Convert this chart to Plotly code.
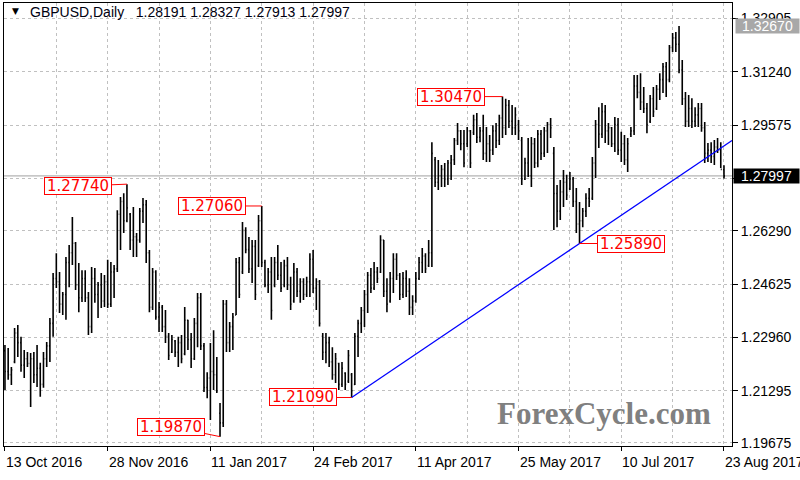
import plotly.graph_objects as go

# ---------------- data ----------------
bar_open = [1.2255,1.2190,1.2180,1.2220,1.2310,1.2280,1.2210,1.2230,1.2215,1.2230,
            1.2180,1.2200,1.2150,1.2230,1.2270,1.2340,1.2480,1.2470,1.2400,1.2430,
            1.2530,1.2560,1.2590,1.2460,1.2420,1.2480,1.2420,1.2330,1.2480,1.2430,
            1.2460,1.2410,1.2470,1.2400,1.2500,1.2510,1.2680,1.2720,1.2660,1.2680,
            1.2600,1.2610,1.2600,1.2690,1.2710,1.2560,1.2390,1.2500,1.2360,1.2390,
            1.2330,1.2300,1.2250,1.2285,1.2250,1.2280,1.2245,1.2350,1.2290,1.2230,
            1.2340,1.2420,1.2270,1.2140,1.2170,1.2190,1.2180,1.2060,1.2030,1.2400,
            1.2280,1.2330,1.2366,1.2530,1.2500,1.2630,1.2570,1.2510,1.2580,1.2520,
            1.2660,1.2530,1.2460,1.2500,1.2460,1.2530,1.2490,1.2460,1.2520,1.2460,
            1.2410,1.2500,1.2440,1.2470,1.2430,1.2470,1.2540,1.2450,1.2470,1.2300,
            1.2250,1.2280,1.2220,1.2180,1.2215,1.2150,1.2185,1.2160,1.2180,1.2150,
            1.2300,1.2340,1.2380,1.2430,1.2490,1.2450,1.2500,1.2500,1.2600,1.2440,
            1.2410,1.2480,1.2540,1.2490,1.2430,1.2480,1.2440,1.2390,1.2410,1.2480,
            1.2530,1.2550,1.2520,1.2560,1.2850,1.2780,1.2800,1.2820,1.2790,1.2840,
            1.2850,1.2910,1.2940,1.2900,1.2900,1.2940,1.2935,1.2975,1.2920,1.2940,
            1.2870,1.2900,1.2880,1.2940,1.2910,1.2980,1.2950,1.3020,1.2970,1.2950,
            1.2960,1.2910,1.2790,1.2840,1.2800,1.2900,1.2840,1.2930,1.2870,1.2940,
            1.2960,1.2870,1.2745,1.2690,1.2750,1.2780,1.2760,1.2790,1.2720,1.2650,
            1.2660,1.2690,1.2730,1.2730,1.2840,1.2960,1.2930,1.3000,1.2940,1.2950,
            1.2900,1.2960,1.2880,1.2900,1.2850,1.2930,1.2940,1.3080,1.3060,1.3030,
            1.3010,1.2970,1.3040,1.3010,1.3070,1.3100,1.3140,1.3100,1.3200,1.3230,
            1.3210,1.3130,1.3040,1.2970,1.3010,1.2970,1.2990,1.3010,1.2950,1.2870,
            1.2880,1.2860,1.2890,1.2880,1.28191]
bar_high = [1.2273,1.2263,1.2204,1.2326,1.2335,1.2298,1.2257,1.2251,1.2248,1.2251,
            1.2273,1.2217,1.2251,1.2282,1.2357,1.2497,1.2559,1.2500,1.2438,1.2547,
            1.2584,1.2672,1.2594,1.2528,1.2506,1.2506,1.2438,1.2516,1.2513,1.2469,
            1.2497,1.2491,1.2538,1.2531,1.2522,1.2693,1.2734,1.2746,1.2774,1.2684,
            1.2703,1.2622,1.2700,1.2731,1.2725,1.2569,1.2513,1.2506,1.2407,1.2397,
            1.2382,1.2310,1.2304,1.2288,1.2298,1.2304,1.2391,1.2351,1.2310,1.2357,
            1.2435,1.2435,1.2279,1.2188,1.2279,1.2319,1.2235,1.2092,1.2413,1.2413,
            1.2344,1.2372,1.2544,1.2547,1.2656,1.2640,1.2609,1.2600,1.2600,1.2678,
            1.2706,1.2538,1.2513,1.2547,1.2547,1.2584,1.2531,1.2538,1.2547,1.2485,
            1.2528,1.2513,1.2481,1.2481,1.2485,1.2559,1.2569,1.2481,1.2475,1.2310,
            1.2310,1.2298,1.2266,1.2248,1.2217,1.2220,1.2188,1.2257,1.2185,1.2310,
            1.2351,1.2391,1.2444,1.2500,1.2513,1.2531,1.2516,1.2615,1.2600,1.2481,
            1.2500,1.2559,1.2559,1.2497,1.2500,1.2506,1.2481,1.2428,1.2500,1.2547,
            1.2575,1.2559,1.2600,1.2905,1.2859,1.2849,1.2834,1.2840,1.2849,1.2865,
            1.2918,1.2965,1.2943,1.2943,1.2952,1.2943,1.2990,1.2996,1.2952,1.2990,
            1.2952,1.2927,1.2958,1.2965,1.2990,1.3047,1.3040,1.3036,1.3021,1.3014,
            1.2974,1.2921,1.2856,1.2918,1.2921,1.2918,1.2943,1.2943,1.2952,1.2968,
            1.2980,1.2890,1.2771,1.2787,1.2818,1.2803,1.2812,1.2796,1.2762,1.2718,
            1.2700,1.2746,1.2762,1.2859,1.2974,1.3014,1.3027,1.3021,1.2965,1.2952,
            1.2983,1.2980,1.2937,1.2927,1.2918,1.2952,1.3114,1.3114,1.3120,1.3077,
            1.3027,1.3052,1.3077,1.3083,1.3120,1.3152,1.3155,1.3208,1.3245,1.3248,
            1.3267,1.3161,1.3061,1.3052,1.3042,1.3014,1.3027,1.3027,1.2968,1.2902,
            1.2905,1.2912,1.2918,1.2905,1.28327]
bar_low = [1.2132,1.2164,1.2148,1.2216,1.2235,1.2189,1.2170,1.2204,1.2079,1.2154,
           1.2142,1.2111,1.2139,1.2204,1.2220,1.2298,1.2450,1.2372,1.2366,1.2351,
           1.2453,1.2522,1.2444,1.2375,1.2407,1.2407,1.2304,1.2310,1.2404,1.2357,
           1.2388,1.2391,1.2388,1.2391,1.2419,1.2500,1.2569,1.2622,1.2655,1.2569,
           1.2547,1.2547,1.2591,1.2653,1.2528,1.2375,1.2382,1.2351,1.2313,1.2313,
           1.2279,1.2226,1.2248,1.2235,1.2204,1.2216,1.2241,1.2257,1.2201,1.2226,
           1.2266,1.2257,1.2126,1.2107,1.2039,1.2132,1.2123,1.1987,1.2017,1.2251,
           1.2251,1.2257,1.2366,1.2419,1.2494,1.2559,1.2497,1.2466,1.2413,1.2516,
           1.2516,1.2453,1.2435,1.2351,1.2453,1.2475,1.2438,1.2453,1.2444,1.2382,
           1.2404,1.2422,1.2404,1.2413,1.2422,1.2422,1.2435,1.2382,1.2330,1.2226,
           1.2216,1.2204,1.2164,1.2154,1.2132,1.2142,1.2132,1.2154,1.2109,1.2148,
           1.2235,1.2310,1.2329,1.2372,1.2435,1.2444,1.2466,1.2497,1.2422,1.2375,
           1.2404,1.2435,1.2475,1.2413,1.2419,1.2422,1.2366,1.2366,1.2404,1.2475,
           1.2497,1.2497,1.2516,1.2516,1.2765,1.2756,1.2765,1.2765,1.2771,1.2787,
           1.2834,1.2896,1.2880,1.2827,1.2890,1.2824,1.2927,1.2902,1.2905,1.2849,
           1.2843,1.2843,1.2865,1.2887,1.2896,1.2918,1.2927,1.2949,1.2927,1.2927,
           1.2912,1.2771,1.2787,1.2796,1.2765,1.2824,1.2827,1.2849,1.2859,1.2871,
           1.2918,1.2631,1.2640,1.2662,1.2703,1.2725,1.2756,1.2703,1.2622,1.2589,
           1.2640,1.2672,1.2703,1.2725,1.2793,1.2887,1.2918,1.2902,1.2896,1.2890,
           1.2874,1.2865,1.2843,1.2834,1.2812,1.2921,1.2927,1.3042,1.3005,1.2996,
           1.2933,1.2965,1.2983,1.3005,1.3036,1.3058,1.3046,1.3092,1.3186,1.3186,
           1.3120,1.3021,1.2952,1.2952,1.2949,1.2952,1.2952,1.2937,1.2840,1.2843,
           1.2840,1.2834,1.2871,1.2824,1.27913]
bar_close = [1.2190,1.2180,1.2195,1.2310,1.2280,1.2210,1.2230,1.2215,1.2230,1.2180,
             1.2200,1.2150,1.2230,1.2270,1.2340,1.2480,1.2470,1.2400,1.2430,1.2530,
             1.2560,1.2590,1.2460,1.2420,1.2480,1.2420,1.2330,1.2480,1.2430,1.2460,
             1.2410,1.2470,1.2400,1.2500,1.2510,1.2680,1.2720,1.2660,1.2700,1.2600,
             1.2610,1.2600,1.2690,1.2710,1.2560,1.2390,1.2500,1.2360,1.2390,1.2330,
             1.2300,1.2240,1.2290,1.2250,1.2280,1.2230,1.2350,1.2290,1.2230,1.2340,
             1.2420,1.2270,1.2140,1.2170,1.2190,1.2180,1.2130,1.2030,1.2400,1.2280,
             1.2330,1.2360,1.2530,1.2430,1.2630,1.2570,1.2510,1.2580,1.2430,1.2660,
             1.2530,1.2460,1.2500,1.2380,1.2530,1.2490,1.2450,1.2520,1.2460,1.2400,
             1.2500,1.2440,1.2470,1.2430,1.2470,1.2540,1.2450,1.2470,1.2340,1.2250,
             1.2280,1.2220,1.2180,1.2230,1.2150,1.2200,1.2150,1.2240,1.2130,1.2300,
             1.2340,1.2380,1.2430,1.2490,1.2450,1.2500,1.2480,1.2600,1.2440,1.2400,
             1.2480,1.2540,1.2490,1.2430,1.2480,1.2440,1.2390,1.2410,1.2480,1.2530,
             1.2550,1.2510,1.2560,1.2870,1.2780,1.2800,1.2820,1.2790,1.2840,1.2850,
             1.2910,1.2940,1.2900,1.2840,1.2940,1.2840,1.2975,1.2920,1.2940,1.2870,
             1.2900,1.2880,1.2940,1.2910,1.2980,1.2950,1.3020,1.2970,1.2950,1.2990,
             1.2940,1.2790,1.2840,1.2800,1.2900,1.2840,1.2930,1.2870,1.2940,1.2960,
             1.2950,1.2745,1.2690,1.2750,1.2780,1.2740,1.2790,1.2720,1.2650,1.2660,
             1.2690,1.2730,1.2720,1.2840,1.2960,1.2930,1.3000,1.2940,1.2950,1.2900,
             1.2960,1.2880,1.2900,1.2850,1.2900,1.2940,1.3080,1.3060,1.3030,1.3010,
             1.2960,1.3040,1.3000,1.3070,1.3100,1.3140,1.3100,1.3200,1.3230,1.3210,
             1.3130,1.3040,1.2970,1.3010,1.2970,1.2990,1.3010,1.2950,1.2870,1.2880,
             1.2860,1.2890,1.2880,1.2820,1.27997]
bar_index = list(range(len(bar_close)))

date_tick_index = [0, 32, 64, 96, 128, 160, 192, 224]
date_tick_labels = ["13 Oct 2016", "28 Nov 2016", "11 Jan 2017", "24 Feb 2017",
                    "11 Apr 2017", "25 May 2017", "10 Jul 2017", "23 Aug 2017"]
grid_minor_index = [16, 48, 80, 112, 144, 176, 208]

price_ticks = [1.19675, 1.21295, 1.22960, 1.24625, 1.26290, 1.27925, 1.29575, 1.31240, 1.32905]
price_tick_labels = ["1.19675", "1.21295", "1.22960", "1.24625", "1.26290", "", "1.29575", "1.31240", "1.32905"]

# marked swing points: (bar index, price, label)
swing_index = [38, 80, 155, 108, 67, 179]
swing_price = [1.27740, 1.27060, 1.30470, 1.21090, 1.19870, 1.25890]
swing_label = ["1.27740", "1.27060", "1.30470", "1.21090", "1.19870", "1.25890"]

# trend line anchors (bar index, price)
trend_index = [108, 179]
trend_price = [1.21090, 1.25890]

last_price = 1.27997
top_price = 1.32670
header = "GBPUSD,Daily&nbsp;&nbsp;&nbsp;1.28191 1.28327 1.27913 1.27997"

# ---------------- layout geometry ----------------
W, H = 800, 480
PL, PR, PT, PB = 4, 732, 3, 446
X_RANGE = [-0.3, 226.5]
Y_RANGE = [1.19578, 1.33387]


def pxx(x):
    return (x - PL) / (PR - PL)


def pxy(y):
    return (PB - y) / (PB - PT)


fig = go.Figure()

fig.add_trace(go.Ohlc(
    x=bar_index, open=bar_open, high=bar_high, low=bar_low, close=bar_close,
    increasing=dict(line=dict(color="#000000", width=1.6)),
    decreasing=dict(line=dict(color="#000000", width=1.6)),
    tickwidth=0.3, hoverinfo="skip", showlegend=False,
))

# trend line through the two anchors, extended to the right edge
slope = (trend_price[1] - trend_price[0]) / (trend_index[1] - trend_index[0])
x_end = X_RANGE[1]
fig.add_trace(go.Scatter(
    x=[trend_index[0], x_end],
    y=[trend_price[0], trend_price[0] + slope * (x_end - trend_index[0])],
    mode="lines", line=dict(color="#0000ff", width=1.3),
    hoverinfo="skip", showlegend=False,
))

# last price line
fig.add_shape(type="line", xref="paper", x0=0, x1=1, yref="y", y0=last_price, y1=last_price,
              line=dict(color="#a0a0a0", width=1), layer="below")

grid_style = dict(gridcolor="#c0c0c0", griddash="3px,3px", gridwidth=1)

# the x labels are drawn as annotations (left-aligned at their bar, like the terminal does),
# the axis itself only carries the tick marks and grid lines
fig.update_xaxes(
    range=X_RANGE, showgrid=True, **grid_style,
    tickmode="array", tickvals=date_tick_index, ticktext=[""] * len(date_tick_index),
    ticks="outside", ticklen=4, tickcolor="#000000",
    showline=True, linecolor="#000000", linewidth=1, mirror=True,
    zeroline=False, rangeslider=dict(visible=False),
    minor=dict(tickvals=grid_minor_index, showgrid=True, gridcolor="#c0c0c0",
               griddash="3px,3px", ticks=""),
)
fig.update_yaxes(
    range=Y_RANGE, side="right", showgrid=True, **grid_style,
    tickmode="array", tickvals=price_ticks, ticktext=price_tick_labels,
    ticks="outside", ticklen=5, tickcolor="#000000",
    tickfont=dict(family="Liberation Sans", size=14, color="#000000"),
    showline=True, linecolor="#000000", linewidth=1, mirror=True,
    zeroline=False,
)

annotations = []
for xi, lab in zip(date_tick_index, date_tick_labels):
    annotations.append(dict(
        x=xi, y=pxy(462), xref="x", yref="paper", xanchor="left", yanchor="middle",
        xshift=-1, text=lab, showarrow=False,
        font=dict(family="Liberation Sans", size=14, color="#000000"),
    ))

# swing labels: box offset in pixels relative to the marked bar
offsets = {"1.27740": (-49, 2), "1.27060": (-50, 0), "1.30470": (-51, 0),
           "1.21090": (-49, 0), "1.19870": (-49, -10), "1.25890": (51, 0)}
for xi, pr, lab in zip(swing_index, swing_price, swing_label):
    ax, ay = offsets[lab]
    annotations.append(dict(
        x=xi, y=pr, xref="x", yref="y", text=lab, showarrow=True,
        ax=ax, ay=ay, arrowhead=0, arrowwidth=1, arrowcolor="#ff0000", standoff=0,
        font=dict(family="DejaVu Sans", size=15, color="#ff0000"),
        bgcolor="#ffffff", bordercolor="#ff0000", borderwidth=1, borderpad=1,
        width=64, height=14,
    ))

# price labels on the axis
annotations.append(dict(
    x=1, y=last_price, xref="paper", yref="y", xanchor="left", yanchor="middle",
    xshift=1, text=f"{last_price:.5f}", showarrow=False,
    font=dict(family="Liberation Sans", size=14, color="#ffffff"),
    bgcolor="#000000", width=63, height=12, borderpad=1, align="center",
))
annotations.append(dict(
    x=1, y=top_price, xref="paper", yref="y", xanchor="left", yanchor="middle",
    xshift=3, text=f"{top_price:.5f}", showarrow=False,
    font=dict(family="Liberation Sans", size=14, color="#ffffff"),
    bgcolor="#a8a8a8", width=61, height=12, borderpad=1, align="center",
))

# header
annotations.append(dict(
    x=pxx(10), y=pxy(11), xref="paper", yref="paper", xanchor="left", yanchor="middle",
    text="▼", showarrow=False, font=dict(family="DejaVu Sans", size=9, color="#000000"),
))
annotations.append(dict(
    x=pxx(28), y=pxy(12), xref="paper", yref="paper", xanchor="left", yanchor="middle",
    text=header, showarrow=False,
    font=dict(family="Liberation Sans", size=14, color="#000010"),
))

# watermark
annotations.append(dict(
    x=pxx(604), y=pxy(413), xref="paper", yref="paper", xanchor="center", yanchor="middle",
    text="<b>ForexCycle.com</b>", showarrow=False,
    font=dict(family="Liberation Serif", size=31, color="#808080"),
))

fig.update_layout(
    width=W, height=H,
    margin=dict(l=PL, r=W - PR, t=PT, b=H - PB, pad=0),
    paper_bgcolor="#ffffff", plot_bgcolor="#ffffff",
    annotations=annotations, showlegend=False, hovermode=False,
)

fig.write_html("out.html", config={"displayModeBar": False, "staticPlot": True})

# remove the browser's default page margin so the 800x480 figure fills the window
with open("out.html", "r", encoding="utf-8") as fh:
    page = fh.read()
page = page.replace("<head>", "<head><style>html,body{margin:0;padding:0;overflow:hidden;}</style>", 1)
with open("out.html", "w", encoding="utf-8") as fh:
    fh.write(page)
